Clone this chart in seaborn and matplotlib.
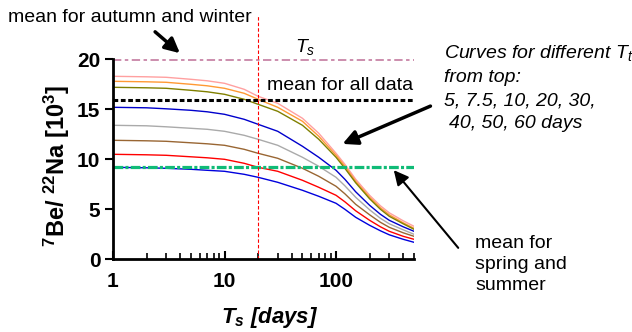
import numpy as np
import pandas as pd
import matplotlib
matplotlib.use("Agg")
import matplotlib.pyplot as plt
from matplotlib.ticker import FixedLocator, NullFormatter, FixedFormatter
import seaborn as sns

# ---------------- data ----------------
ts_days = [1, 2, 3, 5, 7, 10, 15, 20, 30, 50, 70, 100, 120, 150, 200, 250, 300, 400, 500]
tt_labels = ["5", "7.5", "10", "20", "30", "40", "50", "60"]
curve_5 = [18.3, 18.25, 18.2, 18.0, 17.85, 17.6, 17.0, 16.3, 15.6, 14.1, 12.6, 10.6, 9.5, 8.0, 6.4, 5.35, 4.65, 3.85, 3.3]
curve_7_5 = [17.8, 17.75, 17.7, 17.5, 17.35, 17.1, 16.6, 16.0, 15.2, 13.8, 12.3, 10.4, 9.3, 7.8, 6.2, 5.15, 4.45, 3.65, 3.1]
curve_10 = [17.2, 17.15, 17.1, 16.9, 16.75, 16.5, 16.0, 15.5, 14.8, 13.4, 12.0, 10.2, 9.1, 7.65, 6.05, 5.0, 4.3, 3.55, 3.0]
curve_20 = [15.2, 15.15, 15.05, 14.9, 14.75, 14.5, 14.0, 13.5, 12.8, 11.3, 10.2, 8.9, 8.0, 6.75, 5.4, 4.5, 3.9, 3.25, 2.8]
curve_30 = [13.4, 13.35, 13.25, 13.1, 13.0, 12.8, 12.4, 12.0, 11.4, 10.2, 9.3, 8.2, 7.35, 6.2, 4.95, 4.1, 3.55, 2.95, 2.5]
curve_40 = [11.9, 11.85, 11.8, 11.65, 11.55, 11.4, 11.0, 10.6, 10.1, 9.1, 8.3, 7.3, 6.55, 5.5, 4.45, 3.7, 3.2, 2.65, 2.3]
curve_50 = [10.5, 10.45, 10.4, 10.25, 10.15, 10.0, 9.6, 9.2, 8.8, 7.9, 7.2, 6.4, 5.75, 4.85, 3.9, 3.25, 2.8, 2.3, 2.0]
curve_60 = [9.2, 9.15, 9.1, 9.0, 8.9, 8.8, 8.5, 8.2, 7.7, 6.9, 6.3, 5.6, 5.0, 4.2, 3.4, 2.85, 2.45, 2.0, 1.7]
curves = [curve_5, curve_7_5, curve_10, curve_20, curve_30, curve_40, curve_50, curve_60]
curve_colors = ["#ffa0a0", "#ff9933", "#808000", "#0000cc",
                "#aaaaaa", "#996633", "#ff0000", "#0000dd"]

mean_autumn_winter = 19.9
mean_all = 15.9
mean_spring_summer = 9.2
ts_marker = 20

x_ticks = [1, 10, 100]
x_ticklabels = ["1", "10", "100"]
y_ticks = [0, 5, 10, 15, 20]
y_ticklabels = ["0", "5", "10", "15", "20"]

# ---------------- style ----------------
sns.set_style("ticks")
plt.rcParams["font.family"] = ["Liberation Sans", "DejaVu Sans"]
plt.rcParams["mathtext.fontset"] = "custom"
plt.rcParams["mathtext.rm"] = "Liberation Sans"
plt.rcParams["mathtext.it"] = "Liberation Sans:italic"
plt.rcParams["mathtext.bf"] = "Liberation Sans:bold"
plt.rcParams["mathtext.bfit"] = "Liberation Sans:bold:italic"
plt.rcParams["lines.scale_dashes"] = False
for k in ("text.color", "axes.labelcolor", "xtick.color", "ytick.color", "axes.edgecolor"):
    plt.rcParams[k] = "black"

W, H = 632, 332
fig = plt.figure(figsize=(W / 100, H / 100), dpi=100)
ax = fig.add_axes([113 / W, (H - 259.3) / H, 301 / W, 244 / H])

rows = []
for lab, vals in zip(tt_labels, curves):
    for t, v in zip(ts_days, vals):
        rows.append({"Ts": t, "ratio": v, "Tt": lab})
df = pd.DataFrame(rows)

sns.lineplot(data=df, x="Ts", y="ratio", hue="Tt", hue_order=tt_labels,
             palette=curve_colors, linewidth=1.0, legend=False, ax=ax,
             estimator=None, sort=True)

xmin, xmax = ts_days[0], ts_days[-1]
ax.hlines(mean_autumn_winter, xmin, xmax, colors="#c47a9f", linewidth=1.2,
          linestyles=[(0, (6, 2.5, 2.5, 2.5))])
ax.hlines(mean_all, xmin, xmax, colors="black", linewidth=2.2,
          linestyles=[(0, (3.4, 1.9))])
ax.hlines(mean_spring_summer, xmin, xmax, colors="#10bb77", linewidth=2.3,
          linestyles=[(0, (7, 1.6, 2.2, 1.6))])
ax.axvline(ts_marker, color="red", linewidth=0.8, linestyle=(0, (2.5, 1.5)))

ax.set_xscale("log")
ax.set_xlim(1, 500)
ax.set_ylim(0, 24.4)
ax.xaxis.set_major_locator(FixedLocator(x_ticks))
ax.xaxis.set_major_formatter(FixedFormatter(x_ticklabels))
minor = [m * d for d in (1, 10, 100) for m in range(2, 10) if m * d <= 500]
ax.xaxis.set_minor_locator(FixedLocator(minor))
ax.xaxis.set_minor_formatter(NullFormatter())
ax.yaxis.set_major_locator(FixedLocator(y_ticks))
ax.yaxis.set_major_formatter(FixedFormatter(y_ticklabels))

ax.tick_params(axis="x", which="major", direction="in", length=6, width=1.5,
               pad=9, labelsize=15)
ax.tick_params(axis="x", which="minor", direction="in", length=4, width=1.2)
ax.tick_params(axis="y", direction="out", length=6, width=1.5, pad=3, labelsize=15)
for lbl in ax.get_xticklabels() + ax.get_yticklabels():
    lbl.set_fontweight("bold")

for s in ("top", "right"):
    ax.spines[s].set_visible(False)
ax.spines["left"].set_bounds(0, 20)
ax.spines["bottom"].set_bounds(1, 500)
ax.spines["left"].set_linewidth(2)
ax.spines["bottom"].set_linewidth(2)
ax.set_xlabel("")
ax.set_ylabel("")


def fx(px):
    return px / W


def fy(py):
    return 1 - py / H


fig.text(fx(57), fy(166), r"$\mathbf{^{7}Be/\ ^{22}Na\ [10^{3}]}$", rotation=90,
         ha="center", va="center", fontsize=17)
fig.text(fx(270), fy(318), r"$\mathbfit{T_s\ [days]}$", ha="center", va="center",
         fontsize=16)

fs = 14
fig.text(fx(8), fy(18), "mean for autumn and winter", ha="left", va="center", fontsize=fs)
fig.text(fx(295), fy(47), r"$T_s$", ha="left", va="center", fontsize=fs)
fig.text(fx(267), fy(86), "mean for all data", ha="left", va="center", fontsize=fs)
fig.text(fx(444), fy(53), r"Curves for different $T_t$", ha="left", va="center",
         fontsize=fs, style="italic")
fig.text(fx(444), fy(78), "from top:", ha="left", va="center", fontsize=fs, style="italic")
fig.text(fx(444), fy(101), "5, 7.5, 10, 20, 30,", ha="left", va="center", fontsize=fs,
         style="italic")
fig.text(fx(449), fy(124), "40, 50, 60 days", ha="left", va="center", fontsize=fs,
         style="italic")
for i, line in enumerate(["mean for", "spring and", "summer"]):
    fig.text(fx(475), fy(243 + 21.5 * i), line, ha="left", va="center", fontsize=fs)

arrows = [((153, 30), (182, 55), 2.5), ((433, 105), (340, 145), 2.5),
          ((460, 250), (392, 168), 1.5)]
for (tx, ty), (hx, hy), lw in arrows:
    fig.add_artist(matplotlib.patches.FancyArrowPatch(
        (fx(tx), fy(ty)), (fx(hx), fy(hy)), transform=fig.transFigure,
        arrowstyle="-|>", mutation_scale=22, linewidth=lw, color="black"))

fig.savefig("out.png", dpi=100)
